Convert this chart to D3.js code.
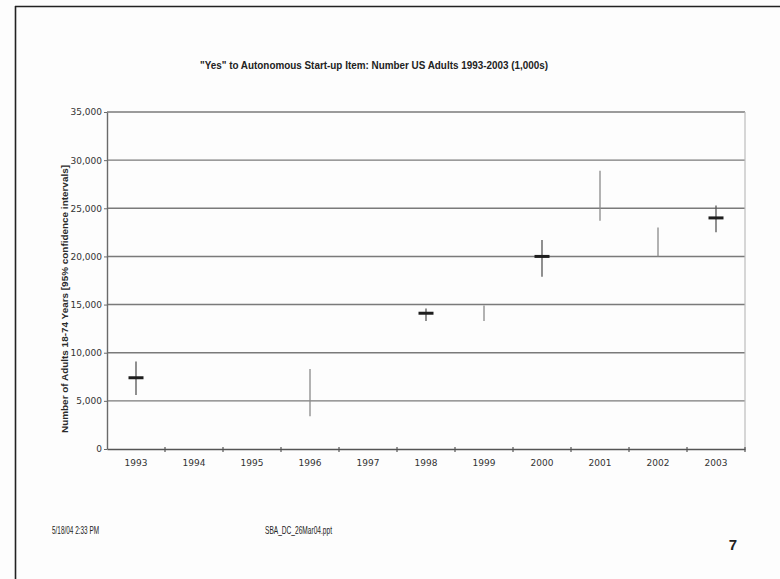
<!DOCTYPE html>
<html>
<head>
<meta charset="utf-8">
<script src="https://cdn.jsdelivr.net/npm/d3@7"></script>
<style>
  html, body { margin: 0; padding: 0; background: #fdfdfd; }
  svg { display: block; }
</style>
</head>
<body>
<svg id="chart" width="780" height="579"></svg>
<script>
// Survey years on the category axis
const years = ["1993", "1994", "1995", "1996", "1997", "1998", "1999", "2000", "2001", "2002", "2003"];
// 95% confidence interval bounds (1,000s of adults); null where no estimate exists
const ciLow  = [5600, null, null, 3400, null, 13300, 13300, 17900, 23700, 20000, 22500];
const ciHigh = [9100, null, null, 8300, null, 14600, 14900, 21700, 28900, 23000, 25300];
// Point estimates (1,000s); only some years carry a marker
const estimate = [7400, null, null, null, null, 14100, null, 20000, null, null, 24000];
// Value-axis ticks
const yTicks = [0, 5000, 10000, 15000, 20000, 25000, 30000, 35000];

const titleText = "\"Yes\" to Autonomous Start-up Item: Number US Adults 1993-2003 (1,000s)";
const yTitleText = "Number of Adults 18-74 Years [95% confidence intervals]";
const footerLeft = "5/18/04 2:33 PM";
const footerMid = "SBA_DC_26Mar04.ppt";
const pageNum = "7";

const svg = d3.select("#chart");

const plot = { left: 107, right: 745, top: 112, bottom: 449 };

const x = d3.scaleBand().domain(years).range([plot.left, plot.right]).padding(0);
const y = d3.scaleLinear().domain([0, 35000]).range([plot.bottom, plot.top]);

// Slide frame (top and left edges)
svg.append("line").attr("x1", 15).attr("x2", 780).attr("y1", 6.5).attr("y2", 6.5)
  .attr("stroke", "#222").attr("stroke-width", 1.6);
svg.append("line").attr("x1", 15.5).attr("x2", 15.5).attr("y1", 6).attr("y2", 579)
  .attr("stroke", "#222").attr("stroke-width", 1.6);

// Horizontal gridlines
svg.append("g")
  .selectAll("line")
  .data(yTicks.filter(d => d > 0))
  .join("line")
  .attr("x1", plot.left).attr("x2", plot.right)
  .attr("y1", d => y(d)).attr("y2", d => y(d))
  .attr("stroke", "#7a7a7a").attr("stroke-width", 1.4);

// Right edge of plot area
svg.append("line")
  .attr("x1", plot.right).attr("x2", plot.right)
  .attr("y1", y(35000)).attr("y2", y(0))
  .attr("stroke", "#bdbdbd").attr("stroke-width", 1.2);

// Y axis
const yAxis = svg.append("g")
  .attr("transform", `translate(${plot.left},0)`)
  .call(d3.axisLeft(y).tickValues(yTicks).tickFormat(d3.format(","))
    .tickSize(3).tickSizeOuter(0).tickPadding(2));
yAxis.select(".domain").attr("stroke", "#6a6a6a").attr("stroke-width", 1.4);
yAxis.selectAll(".tick line").attr("stroke", "#6a6a6a");
yAxis.selectAll("text")
  .attr("font-family", "DejaVu Sans").attr("font-size", 9).attr("fill", "#333");

// X axis: labels centred in each band, tick marks at the band boundaries
const xAxis = svg.append("g")
  .attr("transform", `translate(0,${plot.bottom})`)
  .call(d3.axisBottom(x).tickSize(0).tickSizeOuter(0).tickPadding(11));
xAxis.select(".domain").attr("stroke", "#555").attr("stroke-width", 1.6);
xAxis.selectAll("text")
  .attr("font-family", "DejaVu Sans").attr("font-size", 9).attr("fill", "#333");
xAxis.selectAll(".boundary")
  .data(years)
  .join("line")
  .attr("class", "boundary")
  .attr("x1", d => x(d) + x.bandwidth())
  .attr("x2", d => x(d) + x.bandwidth())
  .attr("y1", -2).attr("y2", 3)
  .attr("stroke", "#555").attr("stroke-width", 1.2);

// Confidence-interval whiskers
const rows = years.map((yr, i) => ({ yr, lo: ciLow[i], hi: ciHigh[i], est: estimate[i] }));

svg.append("g")
  .selectAll("line")
  .data(rows.filter(r => r.lo != null))
  .join("line")
  .attr("x1", r => x(r.yr) + x.bandwidth() / 2)
  .attr("x2", r => x(r.yr) + x.bandwidth() / 2)
  .attr("y1", r => y(r.hi)).attr("y2", r => y(r.lo))
  .attr("stroke", r => r.est != null ? "#555" : "#8a8a8a")
  .attr("stroke-width", 1.3);

// Point-estimate markers
svg.append("g")
  .selectAll("line")
  .data(rows.filter(r => r.est != null))
  .join("line")
  .attr("x1", r => x(r.yr) + x.bandwidth() / 2 - 7.5)
  .attr("x2", r => x(r.yr) + x.bandwidth() / 2 + 7.5)
  .attr("y1", r => y(r.est)).attr("y2", r => y(r.est))
  .attr("stroke", "#1e1e1e").attr("stroke-width", 3);

// Chart title
svg.append("text")
  .attr("x", 374).attr("y", 69)
  .attr("text-anchor", "middle")
  .attr("font-family", "'Liberation Sans Narrow', 'Liberation Sans', Arial, sans-serif")
  .attr("font-weight", "bold").attr("font-size", 11).attr("fill", "#222")
  .attr("textLength", 348).attr("lengthAdjust", "spacingAndGlyphs")
  .text(titleText);

// Y axis title
svg.append("text")
  .attr("transform", "translate(68,299) rotate(-90)")
  .attr("text-anchor", "middle")
  .attr("font-family", "'Liberation Sans', Arial, sans-serif")
  .attr("font-weight", "bold").attr("font-size", 9).attr("fill", "#2a2a2a")
  .attr("textLength", 268).attr("lengthAdjust", "spacingAndGlyphs")
  .text(yTitleText);

// Footer
const footFont = "'Liberation Sans Narrow', 'Liberation Sans', Arial, sans-serif";
svg.append("text")
  .attr("x", 52).attr("y", 534)
  .attr("font-family", footFont).attr("font-size", 10.5).attr("fill", "#222")
  .attr("textLength", 47).attr("lengthAdjust", "spacingAndGlyphs")
  .text(footerLeft);
svg.append("text")
  .attr("x", 265).attr("y", 534)
  .attr("font-family", footFont).attr("font-size", 10.5).attr("fill", "#222")
  .attr("textLength", 67).attr("lengthAdjust", "spacingAndGlyphs")
  .text(footerMid);
svg.append("text")
  .attr("x", 733).attr("y", 550)
  .attr("text-anchor", "middle")
  .attr("font-family", footFont).attr("font-weight", "bold")
  .attr("font-size", 15).attr("fill", "#222")
  .text(pageNum);
</script>
</body>
</html>
